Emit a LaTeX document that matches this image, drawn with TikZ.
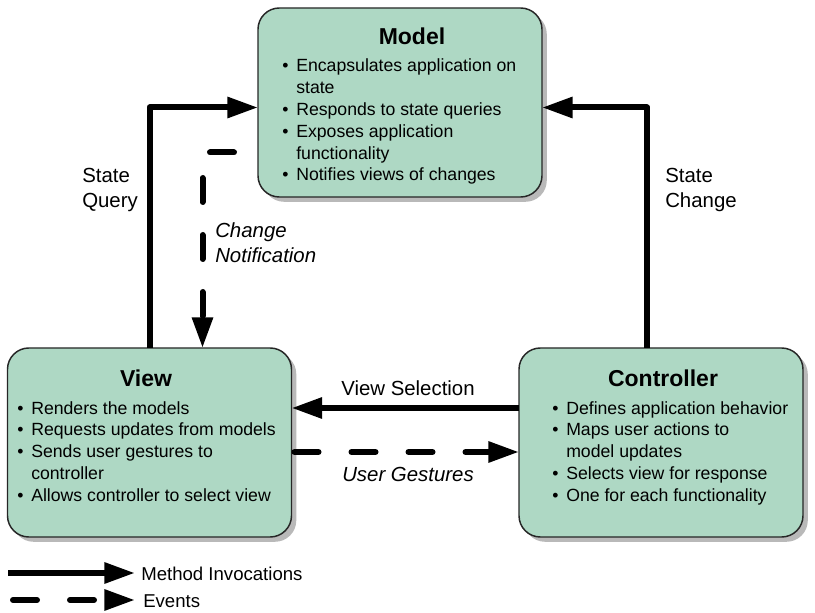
\documentclass[tikz,border=0pt]{standalone}
\usepackage{fontspec}
\setmainfont{Liberation Sans}
\usetikzlibrary{arrows.meta,shadows,calc}
\definecolor{boxgreen}{RGB}{174,216,196}
\definecolor{shadowgray}{RGB}{185,185,185}
\newcommand{\bul}{\makebox[10.5pt][l]{\textbullet}}
\newcommand{\hng}{\hspace*{10.5pt}}
\newcommand{\itemfont}{\fontsize{13.25pt}{16.35pt}\selectfont}
\tikzset{
  mvcbox/.style={draw=black!85, line width=1.1pt, fill=boxgreen, rounded corners=16pt,
    minimum width=213pt, minimum height=141.75pt, inner sep=0pt, outer sep=0pt,
    drop shadow={shadow xshift=3.6pt, shadow yshift=-3.6pt, fill=shadowgray, opacity=1}},
  itemtext/.style={inner sep=0pt, anchor=base west, font=\itemfont},
  titletext/.style={inner sep=0pt, anchor=base, font=\fontsize{17.25pt}{20pt}\selectfont\bfseries},
  lbl/.style={inner sep=0pt, anchor=base west, font=\fontsize{15.3pt}{18.75pt}\selectfont},
  legtext/.style={inner sep=0pt, anchor=west, font=\fontsize{13.95pt}{16pt}\selectfont},
  call/.style={line width=4.5pt, line join=round, -{Triangle[length=23pt,width=15pt]}},
  evt/.style={call, line cap=round, dash pattern=on 18pt off 24.75pt},
}
\begin{document}
\begin{tikzpicture}[x=0.75pt, y=-0.75pt]
\useasboundingbox (0,0) rectangle (815,613);

% boxes
\node[mvcbox] (model) at (400,102.5) {};
\node[mvcbox] (view) at (149.5,442.5) {};
\node[mvcbox] (ctrl) at (661,442.5) {};

% titles
\node[titletext] (mtitle) at (412,45) {Model};
\node[titletext] (vtitle) at (146,387) {View};
\node[titletext] (ctitle) at (663,387) {Controller};

% lists
\node[itemtext] (mlist) at (282,72) {\itemfont\begin{tabular}[t]{@{}l@{}}
\bul Encapsulates application on\\
\hng state\\
\bul Responds to state queries\\
\bul Exposes application\\
\hng functionality\\
\bul Notifies views of changes
\end{tabular}};
\node[itemtext] (vlist) at (17,414) {\itemfont\begin{tabular}[t]{@{}l@{}}
\bul Renders the models\\
\bul Requests updates from models\\
\bul Sends user gestures to\\
\hng controller\\
\bul Allows controller to select view
\end{tabular}};
\node[itemtext] (clist) at (552,414) {\itemfont\begin{tabular}[t]{@{}l@{}}
\bul Defines application behavior\\
\bul Maps user actions to\\
\hng model updates\\
\bul Selects view for response\\
\bul One for each functionality
\end{tabular}};

% connectors
\draw[call] (view.north) |- ($(model.west)+(0,5)$);
\draw[call] ($(ctrl.north)+(-14,0)$) |- ($(model.east)+(0,5)$);
\draw[evt, dash phase=24.75pt] ($(model.west)+(0,50)$) -| ($(view.north)+(53,0)$);
\draw[call] ($(ctrl.west)+(0,-34.5)$) -- ($(view.east)+(0,-34.5)$);
\draw[evt, dash phase=40.5pt] ($(view.east)+(0,9.5)$) -- ($(ctrl.west)+(0,9.5)$);

% labels
\node[lbl] (sq) at (82,183) {\begin{tabular}[t]{@{}l@{}}State\\Query\end{tabular}};
\node[lbl] (sc) at (665,183) {\begin{tabular}[t]{@{}l@{}}State\\Change\end{tabular}};
\node[lbl] (cn) at (215,238) {\itshape\begin{tabular}[t]{@{}l@{}}Change\\Notification\end{tabular}};
\node[lbl] (vs) at (341,395) {View Selection};
\node[lbl] (ug) at (342,481) {\itshape User Gestures};

% legend
\coordinate (l1s) at (8,573);
\coordinate (l1e) at (135,573);
\coordinate (l2s) at (13,600);
\coordinate (l2e) at (135,600);
\draw[call] (l1s) -- (l1e);
\draw[evt] (l2s) -- (l2e);
\node[legtext] (lt1) at (141,574) {Method Invocations};
\node[legtext] (lt2) at (143,601) {Events};
\end{tikzpicture}
\end{document}
